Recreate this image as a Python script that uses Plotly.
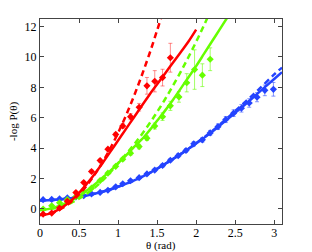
import plotly.graph_objects as go

# ---- data ----
theta_red = [0.04, 0.15, 0.25, 0.35, 0.46, 0.56, 0.66, 0.77, 0.87, 0.97, 1.06, 1.16, 1.27, 1.37, 1.47, 1.57, 1.67]
y_red = [-0.35, -0.28, 0.05, 0.5, 1.07, 1.73, 2.46, 3.18, 3.93, 4.9, 5.46, 6.07, 6.69, 8.1, 8.4, 8.64, 9.95]
err_red = [0.08, 0.08, 0.08, 0.08, 0.08, 0.08, 0.1, 0.1, 0.1, 0.12, 0.15, 0.2, 0.25, 0.55, 0.7, 0.55, 0.95]

theta_green = [0.04, 0.15, 0.25, 0.35, 0.46, 0.56, 0.66, 0.77, 0.87, 0.97, 1.06, 1.16, 1.27, 1.37, 1.47,
               1.57, 1.67, 1.78, 1.88, 1.98, 2.08, 2.18]
y_green = [-0.02, 0.2, 0.4, 0.6, 0.8, 1.14, 1.36, 1.86, 2.35, 2.8, 3.27, 3.66, 4.1, 4.65, 5.45,
           6.07, 6.78, 7.37, 8.3, 9.17, 8.8, 9.85]
err_green = [0.05, 0.05, 0.05, 0.05, 0.05, 0.05, 0.06, 0.06, 0.07, 0.08, 0.1, 0.12, 0.15, 0.15, 0.2,
             0.25, 0.3, 0.35, 0.6, 1.3, 0.75, 0.75]

theta_blue = [0.04, 0.15, 0.25, 0.35, 0.46, 0.56, 0.66, 0.77, 0.87, 0.97, 1.06, 1.16, 1.27, 1.37, 1.47,
              1.57, 1.67, 1.77, 1.87, 1.97, 2.08, 2.18, 2.28, 2.38, 2.48, 2.58, 2.68, 2.78, 2.88, 2.99]
y_blue = [0.6, 0.62, 0.65, 0.72, 0.78, 0.86, 0.98, 1.08, 1.22, 1.45, 1.65, 1.85, 2.05, 2.3, 2.55,
          2.85, 3.2, 3.5, 3.84, 4.28, 4.54, 5.0, 5.41, 5.88, 6.3, 6.62, 6.97, 7.35, 7.8, 7.87]
err_blue = [0.05, 0.05, 0.05, 0.05, 0.05, 0.05, 0.05, 0.05, 0.05, 0.06, 0.06, 0.07, 0.08, 0.08, 0.09,
            0.1, 0.1, 0.12, 0.12, 0.14, 0.15, 0.16, 0.18, 0.2, 0.22, 0.25, 0.28, 0.3, 0.35, 0.45]

# fitted curves (solid) and small-angle approximations (dashed)
fit_theta_red = [0.0, 0.1, 0.2, 0.3, 0.4, 0.5, 0.6, 0.7, 0.8, 0.9, 1.0, 1.1, 1.2, 1.3, 1.4, 1.5, 1.6, 1.7, 1.8, 1.9, 2.0]
fit_red = [-0.4, -0.35, -0.15, 0.15, 0.55, 1.05, 1.65, 2.3, 3.0, 3.75, 4.5, 5.25, 6.0, 6.75, 7.5, 8.2, 8.9, 9.6, 10.3, 11.0, 11.8]
approx_theta_red = [0.0, 0.1, 0.2, 0.3, 0.4, 0.5, 0.6, 0.7, 0.8, 0.9, 1.0, 1.1, 1.2, 1.3, 1.4, 1.5, 1.6]
approx_red = [-0.4, -0.35, -0.18, 0.09, 0.46, 0.95, 1.54, 2.25, 3.06, 3.97, 5.0, 6.13, 7.38, 8.73, 10.18, 11.75, 13.4]

fit_theta_green = [0.0, 0.1, 0.2, 0.3, 0.4, 0.5, 0.6, 0.7, 0.8, 0.9, 1.0, 1.1, 1.2, 1.3, 1.4, 1.5, 1.6, 1.7,
                   1.8, 1.9, 2.0, 2.1, 2.2, 2.3, 2.4, 2.5]
fit_green = [-0.07, -0.02, 0.1, 0.3, 0.55, 0.85, 1.2, 1.6, 2.05, 2.5, 3.0, 3.5, 4.05, 4.55, 5.15, 5.8, 6.45, 7.15,
             7.9, 8.65, 9.4, 10.2, 11.0, 11.8, 12.6, 13.4]
approx_theta_green = [0.0, 0.2, 0.4, 0.6, 0.8, 1.0, 1.2, 1.4, 1.6, 1.8, 2.0, 2.2]
approx_green = [-0.07, 0.05, 0.4, 1.0, 1.85, 3.0, 4.2, 5.6, 7.2, 9.0, 11.0, 13.2]

fit_theta_blue = [0.0, 0.2, 0.4, 0.6, 0.8, 1.0, 1.2, 1.4, 1.6, 1.8, 2.0, 2.2, 2.4, 2.6, 2.8, 3.0, 3.1]
fit_blue = [0.55, 0.6, 0.7, 0.88, 1.12, 1.45, 1.85, 2.35, 2.95, 3.6, 4.3, 5.05, 5.9, 6.75, 7.65, 8.55, 9.0]
approx_blue = [0.55, 0.6, 0.7, 0.88, 1.12, 1.45, 1.85, 2.35, 2.95, 3.6, 4.32, 5.1, 5.98, 6.9, 7.85, 8.85, 9.3]

x_ticks = [0, 0.5, 1, 1.5, 2, 2.5, 3]
x_ticktext = ["0", "0.5", "1", "1.5", "2", "2.5", "3"]
y_ticks = [0, 2, 4, 6, 8, 10, 12]

RED = "#ff0000"
GREEN = "#66ff00"
BLUE = "#2444ff"
FONT = "Liberation Serif, Times New Roman, DejaVu Serif, serif"

fig = go.Figure()

def add_set(th, y, err, fth, fy, ath, ay, color, ebar):
    fig.add_trace(go.Scatter(x=ath, y=ay, mode="lines", line=dict(color=color, width=2.5, dash="6px,4px", shape="spline"),
                             showlegend=False, hoverinfo="skip"))
    fig.add_trace(go.Scatter(x=fth, y=fy, mode="lines", line=dict(color=color, width=2.5, shape="spline"),
                             showlegend=False, hoverinfo="skip"))
    fig.add_trace(go.Scatter(x=th, y=y, mode="markers",
                             marker=dict(symbol="diamond", size=5.5, color=color),
                             error_y=dict(type="data", array=err, color=ebar, thickness=1, width=2),
                             showlegend=False))

add_set(theta_blue, y_blue, err_blue, fit_theta_blue, fit_blue, fit_theta_blue, approx_blue, BLUE, "rgba(36,68,255,0.55)")
add_set(theta_green, y_green, err_green, fit_theta_green, fit_green, approx_theta_green, approx_green, GREEN, "rgba(102,255,0,0.6)")
add_set(theta_red, y_red, err_red, fit_theta_red, fit_red, approx_theta_red, approx_red, RED, "rgba(255,0,0,0.45)")

axis_common = dict(showgrid=False, zeroline=False, showline=True, linecolor="#444444", linewidth=1,
                   mirror="ticks", ticks="inside", ticklen=4, tickcolor="#444444", automargin=False,
                   tickfont=dict(family=FONT, size=12, color="#000000"))

fig.update_layout(
    width=312, height=252,
    margin=dict(l=40, r=30, t=19, b=28),
    paper_bgcolor="white", plot_bgcolor="white",
    font=dict(family=FONT, size=12, color="#000000"),
    xaxis=dict(range=[0, 3.1], tickvals=x_ticks, ticktext=x_ticktext, ticklabelstandoff=-2, **axis_common),
    yaxis=dict(range=[-1, 12.5], tickvals=y_ticks,
               title=dict(text="-log P(θ)", standoff=4, font=dict(family=FONT, size=11)), **axis_common),
    annotations=[dict(text="θ (rad)", x=0.5, xref="paper", y=-(245 - 224) / (252 - 19 - 28), yref="paper",
                      yanchor="middle", showarrow=False, font=dict(family=FONT, size=11))],
)

fig.write_html("out.html", config={"displayModeBar": False},
               post_script="document.body.style.margin='0';document.body.style.padding='0';")
